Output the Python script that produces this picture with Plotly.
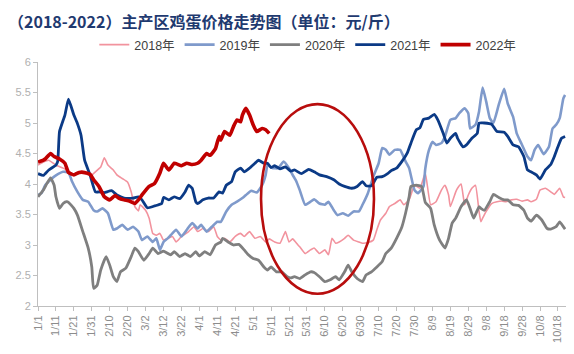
import plotly.graph_objects as go

# ---------------- data (day offset from 1/1, price in 元/斤) ----------------
days_2018 = [0, 3, 6, 10, 14, 17, 20, 23, 27, 30, 32, 35, 37, 39, 42, 44, 47, 50, 52, 54, 56, 57, 60, 62, 64, 66, 68, 70,
             75, 77, 80, 84, 87, 89, 92, 95, 98, 100, 102, 104, 107, 110, 113, 115, 118, 121, 124, 127, 129, 132, 135,
             138, 140, 142, 145, 146, 149, 152, 154, 157, 160, 162, 164, 166, 168, 171, 173, 176, 179, 181, 184, 187,
             189, 191, 194, 196, 199, 202, 204, 207, 208, 210, 213, 216, 219, 222, 225, 227, 229, 230, 233, 234, 236,
             238, 240, 242, 244, 246, 247, 248, 250, 253, 256, 259, 261, 264, 267, 270, 273, 275, 278, 280, 283, 286,
             288, 291, 293, 294]
vals_2018 = [4.31, 4.36, 4.39, 4.31, 4.26, 4.21, 4.15, 4.18, 4.16, 4.15, 4.20, 4.28, 4.43, 4.31, 4.23, 4.15, 4.09, 4.03,
             3.87, 3.63, 3.56, 3.66, 3.57, 3.44, 3.19, 3.16, 3.19, 3.08,
             3.14, 3.05, 3.14, 3.22, 3.30, 3.22, 3.27, 3.22, 3.30, 3.14, 3.08, 3.11, 3.05, 3.14, 3.19, 3.14, 3.22, 3.11,
             3.14, 3.05, 3.10, 3.05, 3.03,
             3.22, 3.05, 3.10, 3.00, 2.97, 2.86, 2.92, 2.95, 2.86, 2.92, 2.84, 3.11, 3.03, 3.05, 3.11, 3.16, 3.08, 3.05,
             3.03, 3.04, 3.08,
             3.25, 3.41, 3.52, 3.63, 3.68, 3.74, 3.66, 3.74, 3.82, 3.98, 3.93, 4.18, 3.66, 3.71, 3.90, 3.98, 3.82, 3.63,
             3.87, 3.93, 4.00,
             3.66, 3.82, 3.93, 3.98, 3.55, 3.38, 3.44, 3.55, 3.68, 3.71, 3.72, 3.71, 3.74, 3.75, 3.72, 3.74, 3.71, 3.75,
             3.90, 3.93, 3.87,
             3.83, 3.93, 3.79, 3.78]

days_2019 = [0, 2, 4, 7, 10, 14, 17, 19, 22, 25, 28, 31, 33, 36, 39, 42, 44, 47, 50, 53, 56, 58, 61, 64, 66, 68, 70, 72,
             74, 77, 80, 83, 86, 89, 91, 94, 97, 100, 102, 105, 108, 111, 114, 116, 119, 122, 125, 127, 128, 131, 134,
             137, 140, 142, 144, 146, 149, 152, 154, 157, 160, 162, 165, 167, 170, 173, 176, 179, 181, 184, 187, 190,
             192, 194, 196, 199, 202, 205, 207, 210, 212, 215, 216, 218, 220, 222, 225, 227, 230, 233, 235, 238, 240,
             241, 244, 246, 248, 250, 252, 254, 257, 260, 262, 265, 267, 270, 273, 275, 277, 279, 282, 285, 287, 289,
             291, 293, 294]
vals_2019 = [3.82, 3.85, 3.98, 4.07, 4.14, 4.20, 4.19, 4.04, 3.87, 3.74, 3.71, 3.57, 3.55, 3.60, 3.52, 3.25, 3.27, 3.33,
             3.25, 3.30, 3.22, 3.08, 3.14, 3.05, 3.11, 2.92, 3.05, 3.10,
             3.16, 3.25, 3.14, 3.25, 3.36, 3.27, 3.33, 3.22, 3.30, 3.38, 3.38, 3.55, 3.66, 3.71, 3.77, 3.82, 3.89, 3.86,
             3.98, 4.15, 4.31, 4.26, 4.26,
             4.37, 4.26, 4.15, 4.05, 3.90, 3.66, 3.71, 3.75, 3.68, 3.66, 3.71, 3.57, 3.49, 3.52, 3.48, 3.55, 3.55, 3.66,
             3.85, 4.12, 4.34,
             4.59, 4.56, 4.48, 4.56, 4.56, 4.37, 4.26, 3.90, 3.85, 3.96, 4.25, 4.55, 4.69, 4.64, 4.67, 4.78, 5.05, 5.08,
             5.16, 5.24, 5.16,
             4.91, 4.97, 5.19, 5.58, 5.35, 5.08, 5.00, 5.30, 5.56, 5.32, 5.10, 4.83, 4.64, 4.45, 4.39, 4.56, 4.64, 4.49,
             4.61, 4.91, 4.97,
             5.08, 5.40, 5.46]

days_2020 = [0, 3, 5, 7, 9, 10, 12, 14, 16, 17, 20, 22, 25, 28, 30, 31, 33, 35, 38, 40, 42, 44, 46, 49, 52, 54, 56, 59,
             62, 64, 67, 70, 74, 76, 79, 82, 85, 88, 90, 93, 96, 99, 102, 103, 106, 109, 112, 115, 117, 120, 123, 126,
             128, 130, 133, 136, 139, 141, 143, 146, 149, 152, 154, 157, 160, 163, 166, 168, 171, 173, 175, 178, 181,
             183, 186, 189, 192, 194, 197, 200, 203, 205, 207, 208, 211, 214, 216, 219, 221, 224, 227, 229, 231, 233,
             236, 239, 241, 243, 246, 247, 249, 252, 254, 257, 260, 262, 265, 268, 271, 273, 275, 278, 281, 284, 286,
             289, 291, 293, 294]
vals_2020 = [3.79, 3.90, 4.01, 4.10, 3.98, 3.79, 3.60, 3.68, 3.71, 3.70, 3.60, 3.49, 3.22, 2.95, 2.64, 2.29, 2.34, 2.59,
             2.81, 2.67, 2.48, 2.40, 2.56, 2.62, 2.81, 2.95, 2.89, 2.75,
             2.86, 2.95, 2.86, 2.90, 2.84, 2.89, 2.81, 2.86, 2.81, 2.89, 2.82, 2.89, 2.84, 3.00, 3.05, 3.11, 3.05, 3.00,
             3.01, 2.92, 2.85, 2.78, 2.75, 2.64,
             2.59, 2.64, 2.56, 2.56, 2.48, 2.46, 2.48, 2.45, 2.51, 2.56, 2.55, 2.48, 2.40, 2.43, 2.48, 2.43, 2.56, 2.67,
             2.56, 2.45, 2.40,
             2.51, 2.56, 2.64, 2.73, 2.86, 2.95, 3.11, 3.30, 3.52, 3.79, 3.96, 3.98, 3.96, 3.70, 3.60, 3.33, 3.08, 2.95,
             3.11, 3.36, 3.44,
             3.63, 3.74, 3.60, 3.44, 3.63, 3.60, 3.57, 3.71, 3.83, 3.78, 3.74, 3.74, 3.66, 3.65, 3.57, 3.44, 3.39, 3.49,
             3.41, 3.27, 3.26,
             3.30, 3.38, 3.30, 3.26]

days_2021 = [0, 3, 6, 10, 11, 12, 15, 17, 20, 22, 24, 26, 29, 32, 34, 37, 41, 44, 48, 53, 56, 58, 61, 65, 69, 70, 73,
             76, 79, 82, 84, 86, 88, 89, 92, 95, 98, 101, 103, 105, 108, 110, 113, 115, 118, 121, 123, 126, 128, 130,
             132, 135, 138, 141, 143, 147, 151, 154, 157, 161, 165, 168, 171, 175, 178, 181, 183, 186, 189, 192, 195,
             197, 200, 203, 206, 208, 211, 213, 215, 218, 221, 223, 226, 228, 230, 233, 234, 237, 239, 242, 245, 246,
             249, 253, 256, 260, 262, 265, 268, 271, 273, 275, 278, 280, 283, 286, 288, 290, 292, 294]
vals_2021 = [4.17, 4.14, 4.23, 4.31, 4.37, 4.86, 5.13, 5.39, 5.13, 4.99, 4.80, 4.39, 4.15, 3.87, 3.87, 3.86, 3.89, 3.82,
             3.77, 3.77, 3.79, 3.74, 3.61, 3.64, 3.68, 3.78, 3.74,
             3.79, 3.76, 3.87, 3.98, 3.93, 3.71, 3.68, 3.74, 3.77, 3.77, 3.87, 3.85, 3.98, 4.04, 4.20, 4.26, 4.20, 4.26,
             4.34, 4.39, 4.34, 4.34, 4.27,
             4.30, 4.25, 4.28, 4.21, 4.23, 4.17, 4.24, 4.20, 4.15, 4.12, 4.07, 4.00, 3.96, 3.93, 3.96, 4.04, 3.97, 3.97,
             4.11, 4.12, 4.17,
             4.22, 4.26, 4.37, 4.51, 4.67, 4.89, 4.92, 5.06, 5.08, 5.14, 5.05, 4.83, 4.67, 4.75, 4.83, 4.75, 4.61, 4.64,
             4.75, 4.83, 5.00,
             5.00, 4.98, 4.86, 4.85, 4.78, 4.64, 4.61, 4.45, 4.23, 4.20, 4.15, 4.08, 4.23, 4.32, 4.45, 4.61, 4.75, 4.78]

days_2022 = [0, 3, 4, 7, 9, 12, 15, 17, 20, 23, 26, 29, 31, 34, 37, 40, 43, 45, 48, 51, 54, 56, 58, 62, 65, 68, 70, 73,
             76, 80, 83, 86, 89, 91, 94, 96, 99, 101, 102, 104, 107, 109, 111, 113, 114, 116, 118, 120, 122, 125, 127,
             129]
vals_2022 = [4.36, 4.39, 4.41, 4.50, 4.45, 4.41, 4.34, 4.19, 4.15, 4.19, 4.19, 4.16, 4.07, 3.96, 3.79, 3.74, 3.81, 3.77,
             3.74, 3.72, 3.68, 3.74, 3.82, 3.96, 4.01, 4.18, 4.34, 4.23,
             4.34, 4.30, 4.34, 4.32, 4.34, 4.39, 4.50, 4.47, 4.58, 4.78, 4.72, 4.86, 4.80, 4.94, 5.05, 5.02, 5.13, 5.24,
             5.13, 4.97, 4.86, 4.91, 4.89, 4.83]

tick_labels = ["1/1", "1/11", "1/21", "1/31", "2/10", "2/20", "3/2", "3/12", "3/22", "4/1", "4/11", "4/21",
               "5/1", "5/11", "5/21", "5/31", "6/10", "6/20", "6/30", "7/10", "7/20", "7/30", "8/9", "8/19",
               "8/29", "9/8", "9/18", "9/28", "10/8", "10/18"]
y_ticks = [2, 2.5, 3, 3.5, 4, 4.5, 5, 5.5, 6]

title_text = "（2018-2022）主产区鸡蛋价格走势图（单位：元/斤）"

# highlighted period (ellipse): day range and price range
highlight = dict(day_from=124.4, day_to=187.4, low=2.2, high=5.31)

# ---------------- styling ----------------
series = [
    ("2018年", days_2018, vals_2018, "#F2939E", 1.6),
    ("2019年", days_2019, vals_2019, "#7F9ACB", 2.6),
    ("2020年", days_2020, vals_2020, "#7F7F7F", 2.8),
    ("2021年", days_2021, vals_2021, "#0B3A86", 2.8),
    ("2022年", days_2022, vals_2022, "#C00000", 3.6),
]

fig = go.Figure()
for name, xs, ys, color, w in series:
    fig.add_trace(go.Scatter(x=xs, y=ys, mode="lines", name=name,
                             line=dict(color=color, width=w, shape="spline", smoothing=0.4)))

fig.add_shape(type="circle", xref="x", yref="y",
              x0=highlight["day_from"], x1=highlight["day_to"],
              y0=highlight["low"], y1=highlight["high"],
              line=dict(color="#B80D0D", width=2.6))

font_family = "Arial, Liberation Sans, Noto Sans CJK SC, sans-serif"

fig.update_layout(
    width=574, height=354, autosize=False,
    paper_bgcolor="white", plot_bgcolor="white",
    margin=dict(l=38, r=8, t=62, b=48, pad=0),
    font=dict(family=font_family),
    title=dict(text="<b>" + title_text + "</b>", xref="container", yref="container",
               x=8 / 574, xanchor="left", y=1 - 22 / 354, yanchor="middle",
               font=dict(family="Noto Sans CJK SC", size=16, color="#1F3A70")),
    legend=dict(orientation="h", x=0.511, xanchor="center", y=(306 - 45) / 244, yanchor="middle",
                font=dict(size=12.5, color="#404040", family=font_family),
                bgcolor="rgba(0,0,0,0)", itemwidth=30, tracegroupgap=0),
    showlegend=True,
)

fig.update_xaxes(range=[0, 294.5], showgrid=False, zeroline=False,
                 showline=True, linecolor="#BFBFBF", linewidth=1,
                 ticks="outside", ticklen=4, tickcolor="#BFBFBF",
                 tickvals=list(range(0, 10 * len(tick_labels), 10)), ticktext=tick_labels,
                 tickangle=-90, tickfont=dict(size=11, color="#8C8C8C"))
fig.update_yaxes(range=[2, 6], showgrid=False, zeroline=False,
                 showline=True, linecolor="#BFBFBF", linewidth=1,
                 ticks="outside", ticklen=4, tickcolor="#BFBFBF",
                 tickvals=y_ticks, ticktext=[f"{v:g}" for v in y_ticks],
                 tickfont=dict(size=11, color="#B0B0B0"))

fig.write_html("out.html")
